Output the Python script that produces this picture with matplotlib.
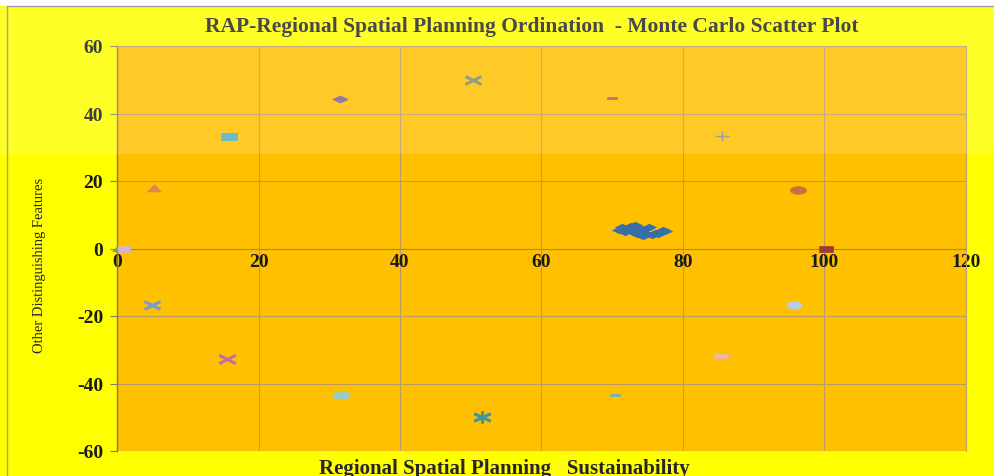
import numpy as np
import matplotlib
matplotlib.use("Agg")
import matplotlib.pyplot as plt
from matplotlib.path import Path
from matplotlib.patches import Rectangle
from matplotlib.lines import Line2D

# --- Data: Monte Carlo cluster (blue diamonds) ---
cluster_x = [71.0, 71.4, 71.8, 72.2, 72.6, 72.9, 73.2, 73.5, 73.8, 74.1,
             74.3, 74.6, 74.9, 75.2, 75.6, 76.0, 76.4, 76.8, 77.2, 77.5]
cluster_y = [5.6, 6.3, 4.9, 5.9, 6.8, 5.2, 7.0, 4.4, 6.1, 5.0,
             3.8, 5.7, 4.4, 6.5, 3.9, 4.6, 4.2, 5.0, 5.6, 5.3]

# --- Data: reference (anchor) points ---
ref_x = [100.2, 0.0, 1.0, 5.2, 15.8, 31.5, 50.3, 70.0, 85.5, 96.2,
         95.7, 85.4, 70.4, 51.6, 31.7, 15.5, 4.9]
ref_y = [0.0, 0.0, 0.0, 17.8, 33.2, 44.2, 49.9, 44.5, 33.2, 17.2,
         -16.6, -31.8, -43.3, -49.8, -43.3, -32.6, -16.6]

x_ticks = [0, 20, 40, 60, 80, 100, 120]
y_ticks = [-60, -40, -20, 0, 20, 40, 60]

TITLE = "RAP-Regional Spatial Planning Ordination  - Monte Carlo Scatter Plot"
XLABEL = "Regional Spatial Planning   Sustainability"
YLABEL = "Other Distinguishing Features"

# --- Stretched marker shapes (the original image is stretched horizontally) ---
M, L = Path.MOVETO, Path.LINETO
MARKERS = {
    "diamond": Path([(-1, 0), (0, 0.47), (1, 0), (0, -0.47), (-1, 0)]),
    "square": Path([(-1, -0.42), (1, -0.42), (1, 0.42), (-1, 0.42), (-1, -0.42)]),
    "triangle": Path([(-1, -0.5), (1, -0.5), (0, 0.55), (-1, -0.5)]),
    "dash": Path([(-1, -0.28), (1, -0.28), (1, 0.28), (-1, 0.28), (-1, -0.28)]),
    "circle": Path.unit_circle().transformed(
        matplotlib.transforms.Affine2D().scale(1, 0.48)),
    "x": Path([(-1, -0.5), (1, 0.5), (-1, 0.5), (1, -0.5)], [M, L, M, L]),
    "plus": Path([(-1, 0), (1, 0), (0, -0.7), (0, 0.7)], [M, L, M, L]),
    "star": Path([(-1, -0.45), (1, 0.45), (-1, 0.45), (1, -0.45), (0, -0.75), (0, 0.75)],
                 [M, L, M, L, M, L]),
}

# style per reference point: (marker, colour, size in pt, filled)
ref_style = [
    ("square", "#9E3A35", 10.5, True),
    ("triangle", "#8A9A6A", 7.0, True),
    ("square", "#DAB4C8", 9.0, True),
    ("triangle", "#E0874F", 10.0, True),
    ("square", "#4AADC6", 12.0, True),
    ("diamond", "#7D5F96", 11.0, True),
    ("x", "#7F8A6E", 11.5, False),
    ("dash", "#C0504D", 6.5, True),
    ("plus", "#8C8C8C", 9.5, False),
    ("circle", "#C8703F", 11.5, True),
    ("circle", "#B8CCE4", 11.0, True),
    ("dash", "#F0B4AC", 9.5, True),
    ("dash", "#6FB0C0", 7.0, True),
    ("star", "#3F93A5", 12.0, False),
    ("circle", "#9CCBBE", 12.5, True),
    ("x", "#C0709A", 12.0, False),
    ("x", "#7E9ACB", 11.5, False),
]

plt.rcParams["font.family"] = ["Liberation Serif", "DejaVu Serif"]
plt.rcParams["axes.unicode_minus"] = False

fig = plt.figure(figsize=(9.95, 4.77), dpi=100)
fig.patch.set_facecolor("#FFFF00")
ax = fig.add_axes([117 / 995, 25 / 477, 849 / 995, 405 / 477])
ax.set_facecolor("#FFC000")

ax.set_xlim(0, 120)
ax.set_ylim(-60, 60)
ax.set_xticks(x_ticks)
ax.set_yticks(y_ticks)
ax.grid(True, color="#B89A62", lw=0.8)
ax.set_axisbelow(True)

for s in ax.spines.values():
    s.set_color("#BFA068")
    s.set_linewidth(0.8)
ax.spines["left"].set_color("#8A7A58")
ax.spines["left"].set_linewidth(1.0)
ax.spines["bottom"].set_position(("data", 0))
ax.spines["bottom"].set_color("#A08A5C")
# plot-area frame (bottom spine was moved to y = 0)
ax.add_patch(Rectangle((0, 0), 1, 1, transform=ax.transAxes, fill=False,
                       ec="#BFA068", lw=0.8, zorder=0.5))

ax.tick_params(axis="y", direction="out", length=5, color="#8A7A58", pad=5,
               labelsize=14)
ax.tick_params(axis="x", length=0, pad=3, labelsize=14)
for lab in ax.get_xticklabels() + ax.get_yticklabels():
    lab.set_fontweight("bold")
    lab.set_color("#1A1A1A")

# cluster
ax.plot(cluster_x, cluster_y, ls="none", marker=MARKERS["diamond"], ms=10,
        mfc="#3A6EA8", mec="#3A6EA8", mew=0.5, zorder=3)

# reference points
for x, y, (mk, col, sz, filled) in zip(ref_x, ref_y, ref_style):
    if filled:
        ax.plot([x], [y], ls="none", marker=MARKERS[mk], ms=sz, mfc=col,
                mec=col, mew=0.5, zorder=3, clip_on=False)
    else:
        ax.plot([x], [y], ls="none", marker=MARKERS[mk], ms=sz, mfc="none",
                mec=col, mew=2.2 if mk != "plus" else 1.0, zorder=3, clip_on=False)

# texts
fig.text(0.534, 0.943, TITLE, ha="center", va="center", fontsize=15.5,
         fontweight="bold", color="#262626")
fig.text(0.507, 0.017, XLABEL, ha="center", va="center", fontsize=15,
         fontweight="bold", color="#262626")
fig.text(0.04, 0.444, YLABEL, ha="center", va="center", rotation=90,
         fontsize=10.5, color="#262626")

# light overlay on the upper band and white strip at the very top (watermark area)
fig.patches.append(Rectangle((0, 1 - 155 / 477), 1, 155 / 477, transform=fig.transFigure,
                             fc="white", alpha=0.16, ec="none", zorder=10))
fig.patches.append(Rectangle((0, 1 - 7 / 477), 1, 7 / 477, transform=fig.transFigure,
                             fc="white", ec="none", zorder=11))
fig.lines.append(Line2D([7 / 995, 7 / 995], [0, 1 - 7 / 477], transform=fig.transFigure,
                        color="#A0A0A0", lw=1.0, zorder=12))
fig.lines.append(Line2D([7 / 995, 1], [1 - 7 / 477, 1 - 7 / 477], transform=fig.transFigure,
                        color="#A0A0A0", lw=1.0, zorder=12))

fig.savefig("out.png", dpi=100, facecolor=fig.get_facecolor())
